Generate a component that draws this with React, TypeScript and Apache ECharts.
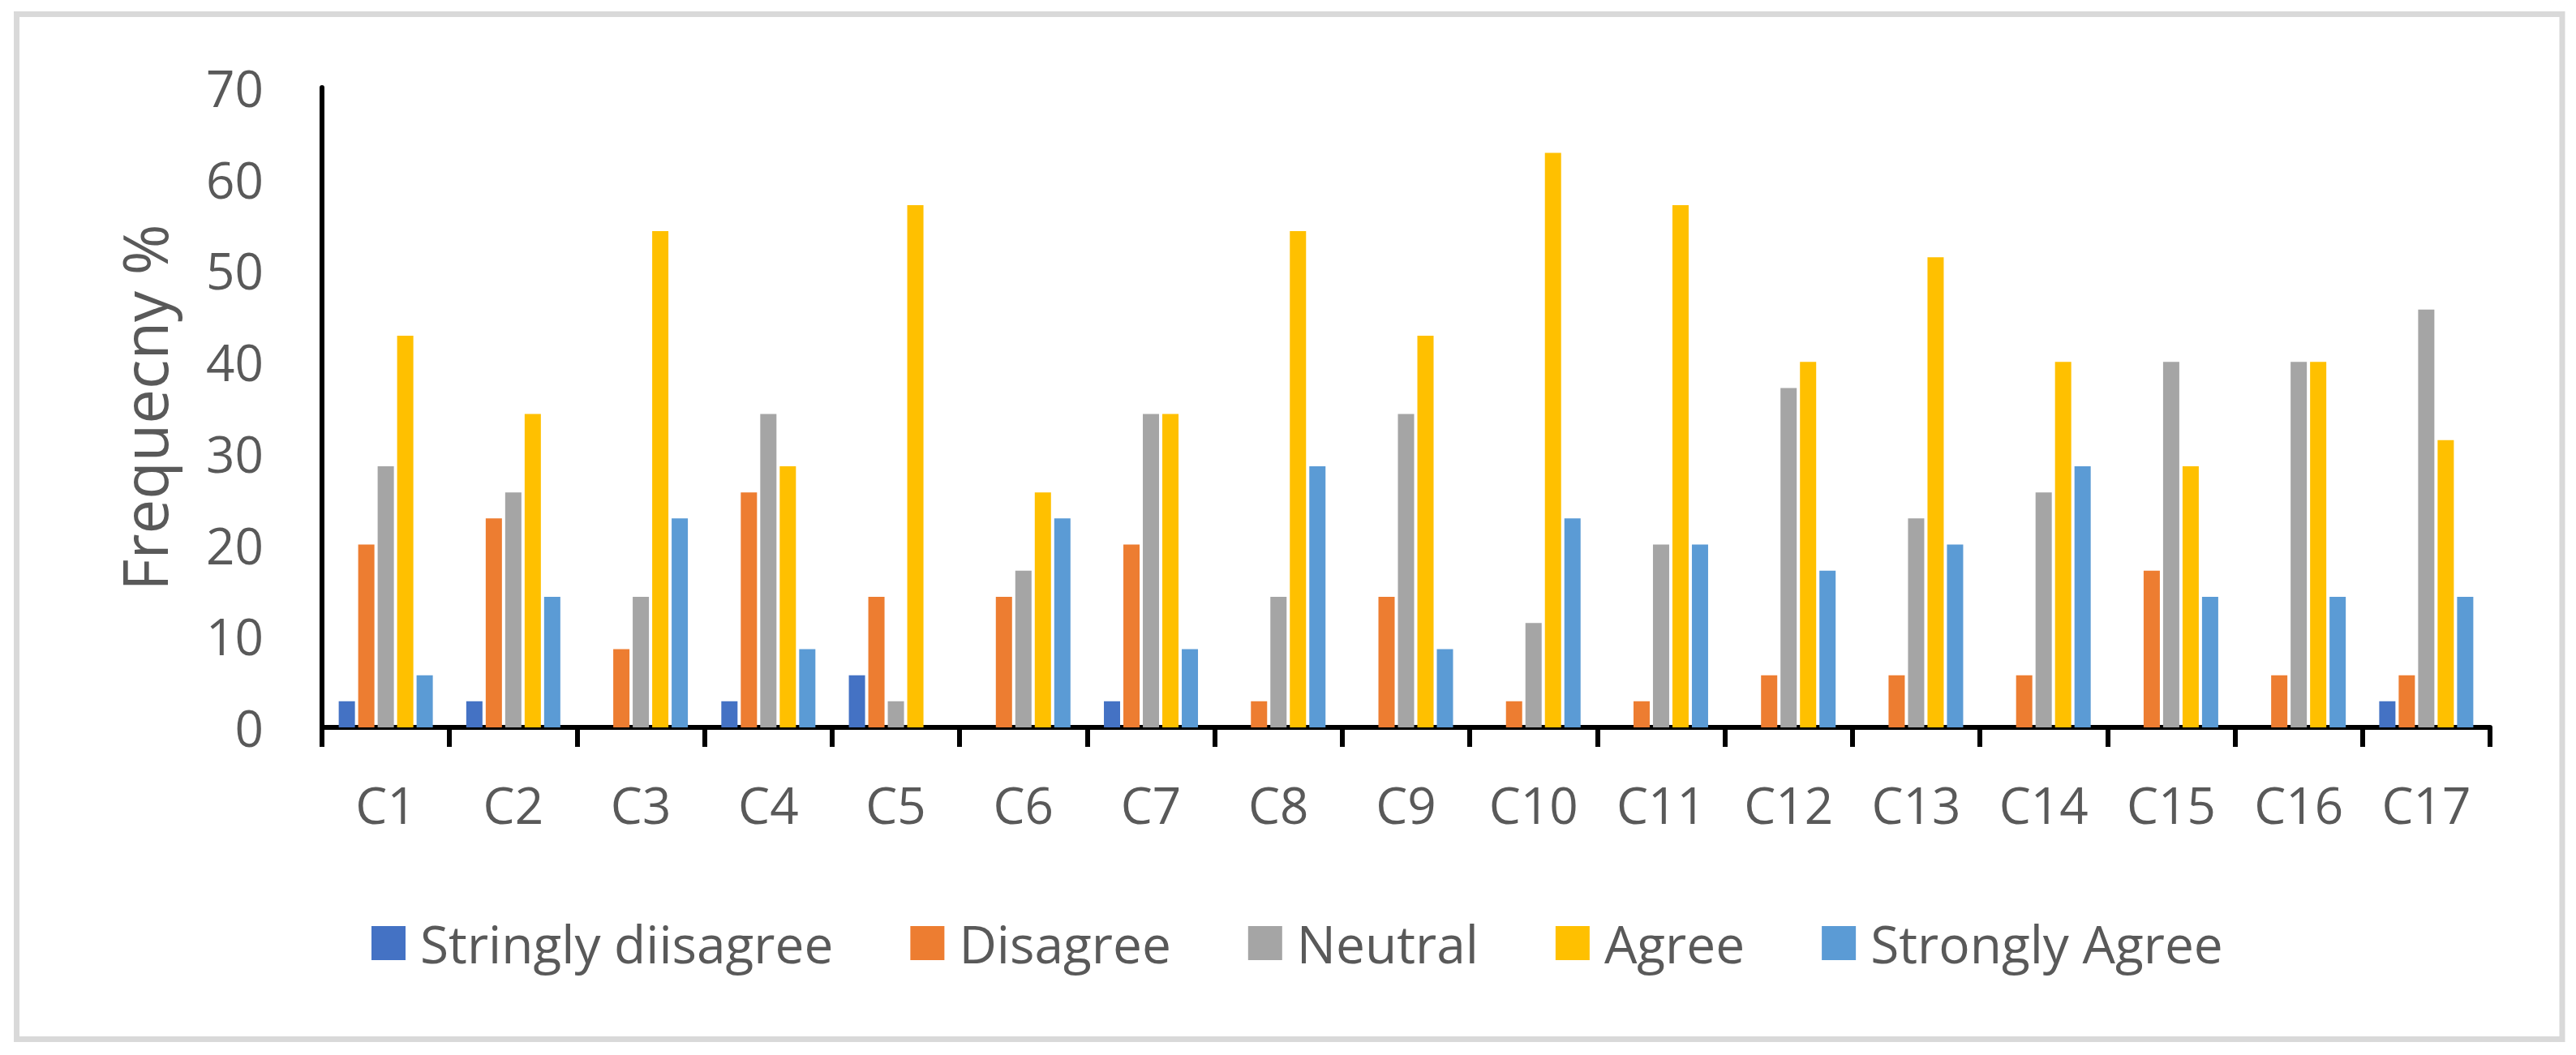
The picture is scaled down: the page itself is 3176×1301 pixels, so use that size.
import React, { useEffect, useRef } from "react";
import * as echarts from "echarts";

const categories = ["C1", "C2", "C3", "C4", "C5", "C6", "C7", "C8", "C9", "C10", "C11", "C12", "C13", "C14", "C15", "C16", "C17"];
const seriesNames = ["Stringly diisagree", "Disagree", "Neutral", "Agree", "Strongly Agree"];
const seriesColors = ["#4472C4", "#ED7D31", "#A5A5A5", "#FFC000", "#5B9BD5"];

const stronglyDisagree = [2.86, 2.86, 0, 2.86, 5.71, 0, 2.86, 0, 0, 0, 0, 0, 0, 0, 0, 0, 2.86];
const disagree = [20, 22.86, 8.57, 25.71, 14.29, 14.29, 20, 2.86, 14.29, 2.86, 2.86, 5.71, 5.71, 5.71, 17.14, 5.71, 5.71];
const neutral = [28.57, 25.71, 14.29, 34.29, 2.86, 17.14, 34.29, 14.29, 34.29, 11.43, 20, 37.14, 22.86, 25.71, 40, 40, 45.71];
const agree = [42.86, 34.29, 54.29, 28.57, 57.14, 25.71, 34.29, 54.29, 42.86, 62.86, 57.14, 40, 51.43, 40, 28.57, 40, 31.43];
const stronglyAgree = [5.71, 14.29, 22.86, 8.57, 0, 22.86, 8.57, 28.57, 8.57, 22.86, 20, 17.14, 20, 28.57, 14.29, 14.29, 14.29];

const yMin = 0;
const yMax = 70;
const yInterval = 10;

const FONT = "'Open Sans', 'Noto Sans', sans-serif";
const TEXT = "#595959";

export default function App() {
  const ref = useRef<HTMLDivElement>(null);

  useEffect(() => {
    if (!ref.current) return;
    const chart = echarts.init(ref.current, undefined, { renderer: "svg" });
    const allData = [stronglyDisagree, disagree, neutral, agree, stronglyAgree];
    chart.setOption({
      animation: false,
      backgroundColor: "#ffffff",
      textStyle: { fontFamily: FONT },
      graphic: [
        {
          type: "rect",
          shape: { x: 20.5, y: 17.5, width: 3138.5, height: 1264 },
          style: { fill: "none", stroke: "#D9D9D9", lineWidth: 7 },
          silent: true,
        },
      ],
      grid: { left: 397, right: 106, top: 108, bottom: 404, containLabel: false },
      legend: {
        data: seriesNames,
        left: 453,
        top: 1126,
        itemWidth: 42,
        itemHeight: 42,
        itemGap: 95,
        icon: "rect",
        textStyle: { fontFamily: FONT, fontSize: 64, color: TEXT, padding: [0, 0, 0, 13] },
      },
      xAxis: {
        type: "category",
        data: categories,
        boundaryGap: true,
        axisLine: { show: true, lineStyle: { color: "#000000", width: 6 } },
        axisTick: { show: true, length: 24, alignWithLabel: false, lineStyle: { color: "#000000", width: 6 } },
        axisLabel: { fontFamily: FONT, fontSize: 62, color: TEXT, margin: 64, interval: 0 },
        splitLine: { show: false },
      },
      yAxis: {
        type: "value",
        min: yMin,
        max: yMax,
        interval: yInterval,
        name: "Frequecny %",
        nameLocation: "middle",
        nameGap: 182,
        nameRotate: 90,
        nameTextStyle: { fontFamily: FONT, fontSize: 76, color: TEXT },
        axisLine: { show: true, lineStyle: { color: "#000000", width: 6 } },
        axisTick: { show: false },
        axisLabel: { fontFamily: FONT, fontSize: 62, color: TEXT, margin: 72 },
        splitLine: { show: false },
      },
      series: seriesNames.map((name, i) => ({
        name,
        type: "bar",
        data: allData[i],
        barWidth: 20,
        barGap: "20%",
        itemStyle: { color: seriesColors[i] },
      })),
    });
    return () => chart.dispose();
  }, []);

  return (
    <div
      ref={ref}
      style={{ position: "fixed", left: 0, top: 0, width: 3176, height: 1301, background: "#fff" }}
    />
  );
}
